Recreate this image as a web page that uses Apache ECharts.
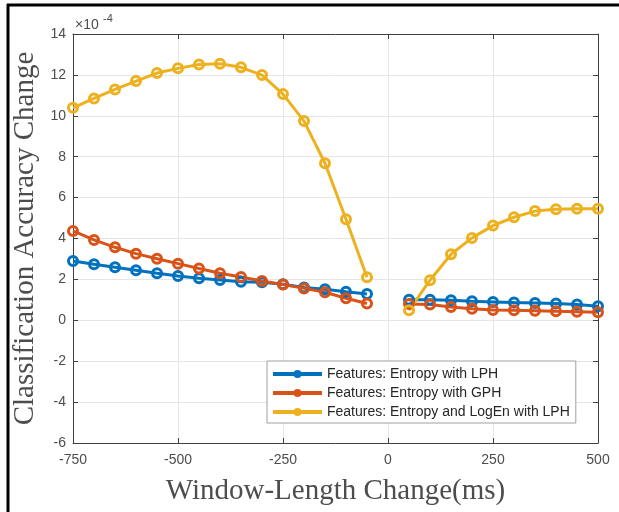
<!DOCTYPE html>
<html>
<head>
<meta charset="utf-8">
<script src="https://cdn.jsdelivr.net/npm/echarts@6/dist/echarts.min.js"></script>
<style>
  html, body { margin: 0; padding: 0; background: #fff; }
  #chart { width: 619px; height: 512px; }
</style>
</head>
<body>
<div id="chart"></div>
<script>
// window-length changes (ms)
const xLeft = [-750, -700, -650, -600, -550, -500, -450, -400, -350, -300, -250, -200, -150, -100, -50];
const xRight = [50, 100, 150, 200, 250, 300, 350, 400, 450, 500];

// values in units of 1e-4
const lphLeft = [2.90, 2.74, 2.59, 2.45, 2.30, 2.17, 2.06, 1.97, 1.89, 1.86, 1.76, 1.60, 1.52, 1.40, 1.29];
const lphRight = [1.01, 1.01, 0.98, 0.93, 0.90, 0.87, 0.85, 0.82, 0.77, 0.69];

const gphLeft = [4.37, 3.93, 3.57, 3.26, 3.01, 2.77, 2.53, 2.30, 2.12, 1.92, 1.75, 1.56, 1.37, 1.08, 0.82];
const gphRight = [0.80, 0.77, 0.65, 0.57, 0.50, 0.49, 0.47, 0.44, 0.42, 0.39];

const logLeft = [10.39, 10.85, 11.29, 11.70, 12.09, 12.32, 12.51, 12.55, 12.37, 11.99, 11.06, 9.74, 7.68, 4.94, 2.10];
const logRight = [0.49, 1.96, 3.23, 4.03, 4.63, 5.04, 5.34, 5.43, 5.45, 5.45];

const seriesNames = [
    "Features: Entropy with LPH",
    "Features: Entropy with GPH",
    "Features: Entropy and LogEn with LPH",
];
const colors = ["#0072BD", "#D95319", "#EDB120"];

const axisColor = "#404040";
const labelColor = "#4d4d4d";

// join the two halves with a gap at 0
const toPairs = (left, right) => {
    const res = xLeft.map((x, i) => [x, left[i]]);
    res.push([0, "-"]);
    xRight.forEach((x, i) => res.push([x, right[i]]));
    return res;
};

const seriesData = [
    toPairs(lphLeft, lphRight),
    toPairs(gphLeft, gphRight),
    toPairs(logLeft, logRight),
];

const myChart = echarts.init(document.getElementById("chart"));

const baseAxis = {
    type: "value",
    axisLine: { show: true, onZero: false, lineStyle: { color: axisColor, width: 1 } },
    axisTick: { show: true, inside: true, length: 5, lineStyle: { color: axisColor } },
};

const option = {
    animation: false,
    backgroundColor: "#fff",
    grid: { left: 73, right: 21, top: 34, bottom: 69 },
    xAxis: [
        {
            ...baseAxis,
            min: -750,
            max: 500,
            interval: 250,
            name: "Window-Length Change(ms)",
            nameLocation: "middle",
            nameGap: 34,
            nameTextStyle: { fontFamily: "Liberation Serif", fontSize: 29, color: labelColor },
            axisLabel: { margin: 10, color: labelColor, fontFamily: "Liberation Sans", fontSize: 14 },
            splitLine: { show: true, lineStyle: { color: "#e6e6e6", width: 1 } },
        },
        {
            ...baseAxis,
            position: "top",
            min: -750,
            max: 500,
            interval: 250,
            axisLabel: { show: false },
            splitLine: { show: false },
        },
    ],
    yAxis: [
        {
            ...baseAxis,
            min: -6,
            max: 14,
            interval: 2,
            name: "Classification Accuracy Change",
            nameLocation: "middle",
            nameGap: 26,
            nameTextStyle: { fontFamily: "Liberation Serif", fontSize: 29, color: labelColor },
            axisLabel: { margin: 7, color: labelColor, fontFamily: "Liberation Sans", fontSize: 14 },
            splitLine: { show: true, lineStyle: { color: "#e6e6e6", width: 1 } },
        },
        {
            ...baseAxis,
            position: "right",
            min: -6,
            max: 14,
            interval: 2,
            axisLabel: { show: false },
            splitLine: { show: false },
        },
    ],
    legend: {
        orient: "vertical",
        left: 267,
        top: 361,
        padding: [6, 6, 4, 4],
        itemGap: 5,
        itemWidth: 49,
        itemHeight: 10,
        backgroundColor: "#fff",
        borderColor: "#a0a0a0",
        borderWidth: 1,
        textStyle: { fontFamily: "Liberation Sans", fontSize: 14, color: "#262626" },
        data: seriesNames.map((name, i) => ({
            name,
            itemStyle: { color: colors[i], borderColor: colors[i], borderWidth: 0 },
            lineStyle: { color: colors[i], width: 4 },
        })),
    },
    graphic: [
        // outer frame: top and left edges
        { type: "line", shape: { x1: 7, y1: 5, x2: 619, y2: 5 }, style: { stroke: "#000", lineWidth: 3 } },
        { type: "line", shape: { x1: 8, y1: 4, x2: 8, y2: 512 }, style: { stroke: "#000", lineWidth: 3 } },
        // axis exponent
        { type: "text", left: 75, top: 18, style: { text: "×10", font: "14px Liberation Sans", fill: labelColor } },
        { type: "text", left: 103, top: 13, style: { text: "-4", font: "11px Liberation Sans", fill: labelColor } },
    ],
    series: seriesData.map((data, i) => ({
        name: seriesNames[i],
        type: "line",
        data,
        connectNulls: false,
        symbol: "circle",
        symbolSize: 9,
        showAllSymbol: true,
        lineStyle: { color: colors[i], width: 3 },
        itemStyle: { color: "rgba(255,255,255,0)", borderColor: colors[i], borderWidth: 3 },
        emphasis: { disabled: true },
    })),
};

myChart.setOption(option);
</script>
</body>
</html>
